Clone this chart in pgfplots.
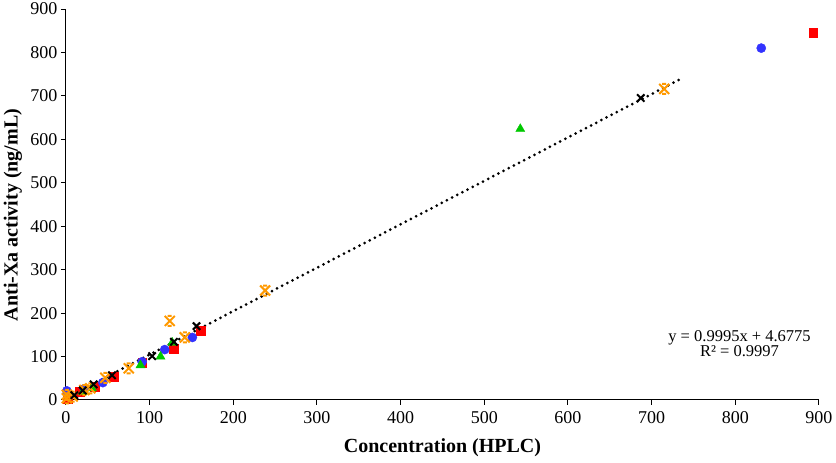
\documentclass[border=0pt]{standalone}
\usepackage{fontspec}
\setmainfont{Liberation Serif}
\usepackage{pgfplots}
\pgfplotsset{compat=1.18}
\definecolor{cblue}{RGB}{51,51,255}
\definecolor{cred}{RGB}{255,0,0}
\definecolor{cgreen}{RGB}{0,200,0}
\definecolor{corange}{RGB}{255,153,0}
\pgfdeclareplotmark{xcap}{%
  \pgfpathmoveto{\pgfqpoint{-\pgfplotmarksize}{-\pgfplotmarksize}}%
  \pgfpathlineto{\pgfqpoint{\pgfplotmarksize}{\pgfplotmarksize}}%
  \pgfpathmoveto{\pgfqpoint{-\pgfplotmarksize}{\pgfplotmarksize}}%
  \pgfpathlineto{\pgfqpoint{\pgfplotmarksize}{-\pgfplotmarksize}}%
  \pgfpathmoveto{\pgfqpoint{-0.4\pgfplotmarksize}{\pgfplotmarksize}}%
  \pgfpathlineto{\pgfqpoint{0.4\pgfplotmarksize}{\pgfplotmarksize}}%
  \pgfpathmoveto{\pgfqpoint{-0.4\pgfplotmarksize}{-\pgfplotmarksize}}%
  \pgfpathlineto{\pgfqpoint{0.4\pgfplotmarksize}{-\pgfplotmarksize}}%
  \pgfusepathqstroke}
\begin{document}
\begin{tikzpicture}
\begin{axis}[
  scale only axis,
  width=753pt, height=391pt,
  xmin=0, xmax=900, ymin=0, ymax=900,
  xtick distance=100, ytick distance=100,
  minor tick num=0,
  axis lines*=left,
  axis line style={black, line width=1pt},
  tick style={black, line width=1pt},
  major tick length=5pt,
  tick align=outside,
  clip=false,
  /pgf/number format/assume math mode=true,
  ticklabel style={font=\fontsize{18}{20}\selectfont},
  xticklabel style={yshift=-3pt},
  xlabel={Concentration (HPLC)},
  ylabel={Anti-Xa activity (ng/mL)},
  label style={font=\fontsize{20}{22}\selectfont\bfseries},
  xlabel style={at={(axis description cs:0.5,0)}, anchor=center, yshift=-48pt},
  ylabel style={at={(axis description cs:0,0.473)}, anchor=center, rotate=0, yshift=53pt},
]
\addplot[only marks, mark=square*, mark size=4.4pt, color=cred] coordinates {
(2,2) (16,19) (34,31) (57,54) (91,86) (129,118) (161,159) (893,845)};
\addplot[only marks, mark=*, mark size=4.6pt, color=cblue] coordinates {
(1,21) (22,26) (44,40) (91,88) (118,116) (151,144) (831,810)};
\addplot[only marks, mark=triangle*, mark size=5.2pt, color=cgreen] coordinates {
(20,18) (31,27) (89,80) (113,100) (127,132) (543,624)};
\addplot[only marks, mark=xcap, mark size=5pt, line width=2pt, color=corange] coordinates {
(1,12) (1,4) (8,8) (22,23) (29,27) (47,51) (75,73) (124,182) (142,144) (238,252) (715,716)};
\addplot[only marks, mark=x, mark size=5.2pt, line width=2pt, color=black] coordinates {
(10,11) (20,22) (33,36) (55,57) (103,101) (129,134) (156,170) (687,695)};
\addplot[black, line width=3pt, line cap=round, dash pattern=on 0pt off 5.8pt] coordinates {
(0,4.6775) (733,737.31)};
\node[align=center, font=\fontsize{16.5}{15}\selectfont] at (axis cs:805,129) {y = 0.9995x + 4.6775\\R² = 0.9997};
\end{axis}
\pgfresetboundingbox
\path ([xshift=-66pt,yshift=-63pt]current axis.south west) rectangle ++(836pt,463pt);
\end{tikzpicture}
\end{document}
